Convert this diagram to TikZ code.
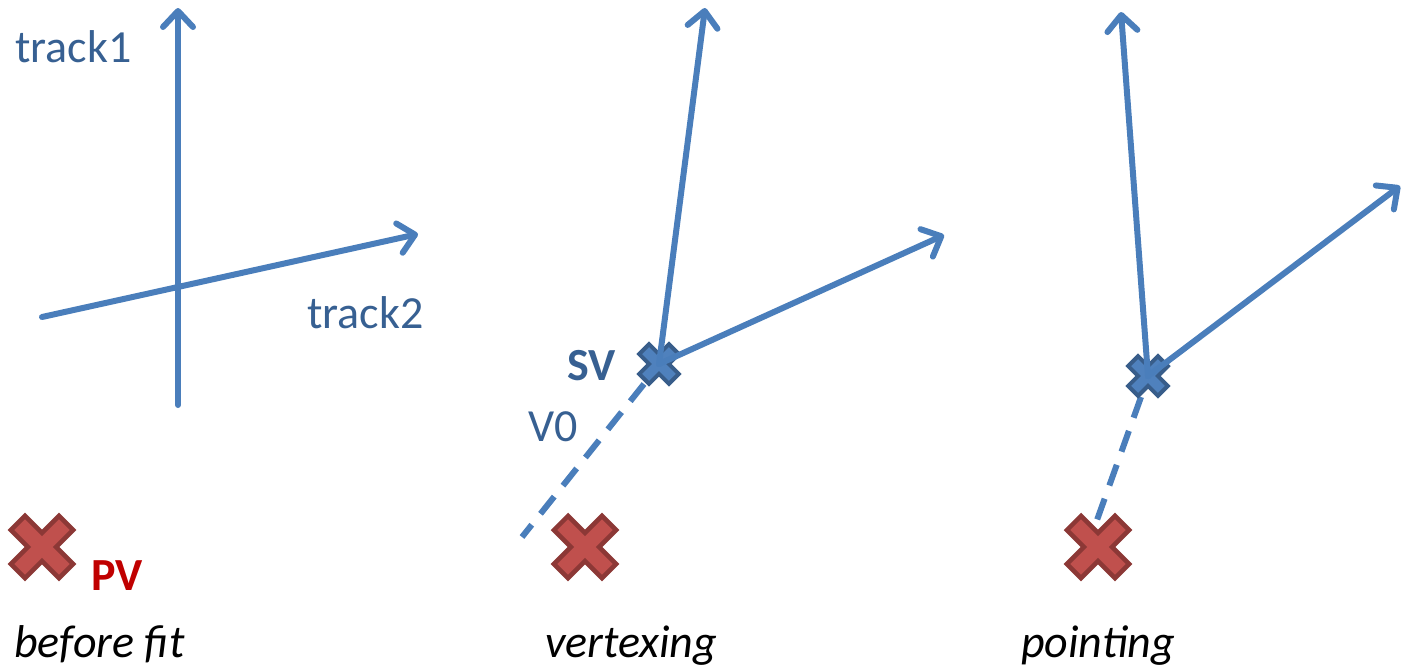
\documentclass[tikz,border=0pt]{standalone}
\usepackage{fontspec}
\setmainfont{Carlito}
\usetikzlibrary{arrows.meta}
\definecolor{track-blue}{RGB}{74,126,187}
\definecolor{label-blue}{RGB}{55,96,146}
\definecolor{sv-fill}{RGB}{79,129,189}
\definecolor{sv-border}{RGB}{56,93,138}
\definecolor{pv-fill}{RGB}{192,80,77}
\definecolor{pv-border}{RGB}{140,56,54}
\definecolor{pv-red}{RGB}{192,0,0}

% plus shape, arm half length #1, arm half width #2
\newcommand{\crosspath}[2]{(#2,#1) -- (#2,#2) -- (#1,#2) -- (#1,-#2) -- (#2,-#2) -- (#2,-#1)
  -- (-#2,-#1) -- (-#2,-#2) -- (-#1,-#2) -- (-#1,#2) -- (-#2,#2) -- (-#2,#1) -- cycle}

\tikzset{
  track/.style={draw=track-blue, line width=6pt, line cap=round,
    -{Straight Barb[length=16pt,width=30pt,round]}},
  dashtrack/.style={draw=track-blue, line width=6pt, dash pattern=on 22pt off 14pt},
  lbl/.style={font=\fontsize{46}{55}\selectfont, text=label-blue, inner sep=0pt, anchor=base west},
  caption/.style={font=\fontsize{46}{55}\selectfont\itshape, inner sep=0pt, anchor=base west},
  pics/pvcross/.style={code={
    \filldraw[fill=pv-fill, draw=pv-border, line width=4.5pt, rotate=45] \crosspath{34}{10};}},
  pics/svcross/.style={code={
    \filldraw[fill=sv-fill, draw=sv-border, line width=4pt, rotate=45] \crosspath{21}{7};}}
}

\begin{document}
\begin{tikzpicture}[x=1pt,y=-1pt]
\useasboundingbox (0,0) rectangle (1402,670);

% before fit
\coordinate (pv1) at (42,547);
\coordinate (t1a) at (178,405);
\coordinate (t1b) at (178,8);
\coordinate (t2a) at (42,317);
\coordinate (t2b) at (418,234);
\pic at (pv1) {pvcross};
\draw[track] (t1a) -- (t1b);
\draw[track] (t2a) -- (t2b);
\node[lbl] (track1) at (15,62) {track1};
\node[lbl] (track2) at (307,328) {track2};
\node[lbl, text=pv-red, font=\fontsize{46}{55}\selectfont\bfseries] (pvlabel) at (91,590) {PV};
\node[caption] (cap1) at (14,657) {before fit};

% vertexing
\coordinate (pv2) at (585,547);
\coordinate (sv2) at (659,364);
\coordinate (v0a) at (644,384);
\coordinate (v0b) at (522,537);
\coordinate (t3b) at (705,8);
\coordinate (t4b) at (944,235);
\draw[dashtrack] (v0a) -- (v0b);
\pic at (pv2) {pvcross};
\pic at (sv2) {svcross};
\draw[track] (sv2) -- (t3b);
\draw[track] (sv2) -- (t4b);
\node[lbl, font=\fontsize{46}{55}\selectfont\bfseries] (svlabel) at (567,380) {SV};
\node[lbl] (v0label) at (528,441) {V0};
\node[caption] (cap2) at (545,657) {vertexing};

% pointing
\coordinate (pv3) at (1098,547);
\coordinate (sv3) at (1148,376);
\coordinate (dira) at (1141,397);
\coordinate (dirb) at (1097,520);
\coordinate (t5b) at (1121,12);
\coordinate (t6b) at (1400,186);
\draw[dashtrack] (dira) -- (dirb);
\pic at (pv3) {pvcross};
\pic at (sv3) {svcross};
\draw[track] (sv3) -- (t5b);
\draw[track] (sv3) -- (t6b);
\node[caption] (cap3) at (1021,657) {pointing};
\end{tikzpicture}
\end{document}
